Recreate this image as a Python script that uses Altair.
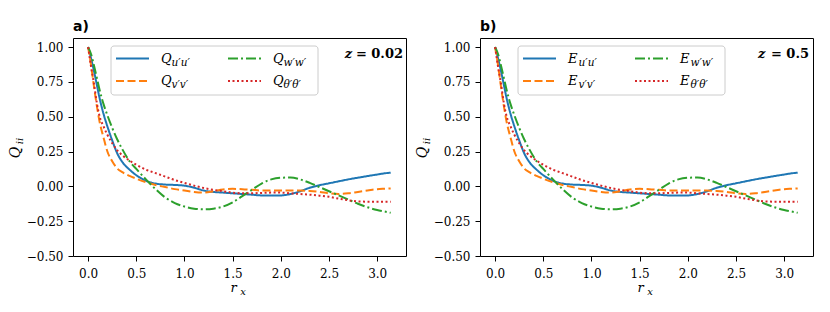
import altair as alt
import pandas as pd

# separation r_x (shared sampling grid)
rx = [0.0, 0.03, 0.06, 0.09, 0.12, 0.16, 0.2, 0.25, 0.3, 0.36, 0.43, 0.5, 0.6, 0.7,
      0.8, 0.9, 1.0, 1.1, 1.2, 1.3, 1.4, 1.5, 1.6, 1.7, 1.8, 1.9, 2.0, 2.1, 2.2, 2.3,
      2.4, 2.5, 2.6, 2.7, 2.8, 2.9, 3.0, 3.07, 3.14]

q_uu = [1.0, 0.92, 0.83, 0.73, 0.63, 0.52, 0.43, 0.33, 0.24, 0.17, 0.12, 0.08, 0.04, 0.02,
        0.013, 0.01, 0.005, -0.01, -0.03, -0.04, -0.045, -0.05, -0.055, -0.06, -0.065, -0.065,
        -0.065, -0.055, -0.035, -0.01, 0.008, 0.022, 0.036, 0.05, 0.062, 0.074, 0.085, 0.093, 0.098]

q_vv = [1.0, 0.87, 0.72, 0.58, 0.46, 0.35, 0.25, 0.18, 0.13, 0.1, 0.075, 0.055, 0.03, 0.01,
        -0.005, -0.02, -0.03, -0.04, -0.045, -0.035, -0.022, -0.018, -0.02, -0.025, -0.03, -0.03,
        -0.03, -0.03, -0.03, -0.033, -0.04, -0.05, -0.055, -0.05, -0.04, -0.03, -0.02, -0.017, -0.015]

q_ww = [1.0, 0.95, 0.87, 0.78, 0.69, 0.59, 0.51, 0.42, 0.34, 0.26, 0.18, 0.125, 0.05, -0.02,
        -0.08, -0.12, -0.145, -0.16, -0.165, -0.16, -0.145, -0.115, -0.07, -0.025, 0.02, 0.05,
        0.062, 0.063, 0.05, 0.025, -0.005, -0.035, -0.065, -0.095, -0.125, -0.15, -0.17, -0.18, -0.19]

q_tt = [1.0, 0.86, 0.74, 0.6, 0.5, 0.43, 0.37, 0.31, 0.26, 0.22, 0.185, 0.155, 0.12, 0.095,
        0.07, 0.045, 0.025, 0.005, -0.012, -0.025, -0.035, -0.045, -0.05, -0.05, -0.047, -0.045,
        -0.045, -0.05, -0.055, -0.06, -0.067, -0.075, -0.088, -0.1, -0.108, -0.11, -0.11, -0.11, -0.11]

series_keys = ["uu", "vv", "ww", "tt"]
series_subs = ["u′u′", "v′v′", "w′w′", "θ′θ′"]
colors = ["#1f77b4", "#ff7f0e", "#2ca02c", "#d62728"]
dashes = [[1, 0], [8, 3.5], [10, 3, 2, 3], [2, 2.5]]

x_ticks = [0.0, 0.5, 1.0, 1.5, 2.0, 2.5, 3.0]
y_ticks = [-0.5, -0.25, 0.0, 0.25, 0.5, 0.75, 1.0]

rows = []
for key, vals in zip(series_keys, [q_uu, q_vv, q_ww, q_tt]):
    for x, v in zip(rx, vals):
        rows.append({"rx": x, "Q": v, "s": key})
df = pd.DataFrame(rows)
one = pd.DataFrame({"k": [0]})

W, H = 333, 218
SERIF = "DejaVu Serif"


def txt(text, x, y, size, style="normal", weight="normal", align="center", angle=0, font=SERIF):
    return alt.Chart(one).mark_text(
        text=text, align=align, baseline="middle", font=font, fontStyle=style,
        fontWeight=weight, fontSize=size, color="black", angle=angle,
    ).encode(x=alt.value(x), y=alt.value(y))


def panel(letter, sym, zval, zx):
    lines = alt.Chart(df).mark_line(strokeWidth=2, interpolate="monotone", clip=True).encode(
        x=alt.X("rx:Q", scale=alt.Scale(domain=[-0.157, 3.299], nice=False, zero=False),
                axis=alt.Axis(values=x_ticks, format=".1f", title=None)),
        y=alt.Y("Q:Q", scale=alt.Scale(domain=[-0.5, 1.065], nice=False, zero=False),
                axis=alt.Axis(values=y_ticks, format=".2f", title=None)),
        color=alt.Color("s:N", scale=alt.Scale(domain=series_keys, range=colors), legend=None),
        strokeDash=alt.StrokeDash("s:N", scale=alt.Scale(domain=series_keys, range=dashes), legend=None),
    )
    layers = [lines]
    frame = alt.Chart(one).mark_rect(fill="white", fillOpacity=0.8, stroke="#cccccc",
                                     strokeWidth=1, cornerRadius=3).encode(
        x=alt.value(38), x2=alt.value(245), y=alt.value(8), y2=alt.value(57))
    layers.append(frame)
    for i, (key, sub, col, dash) in enumerate(zip(series_keys, series_subs, colors, dashes)):
        c, r = i // 2, i % 2
        ly = 20.5 + r * 22.5
        lx0 = 43 + c * 112
        tx = 88 + c * 112
        layers.append(alt.Chart(one).mark_rule(color=col, strokeDash=dash, strokeWidth=2).encode(
            x=alt.value(lx0), x2=alt.value(lx0 + 33), y=alt.value(ly)))
        layers.append(txt(sym, tx, ly, 13, style="italic", align="left"))
        layers.append(txt(sub, tx + 10.5, ly + 4, 10.5, style="italic", align="left"))
    # panel annotation z = ...
    layers.append(txt("= " + zval, zx, 16, 13, weight="bold", align="right"))
    layers.append(txt("z", zx - 7.3 * (len(zval) + 2) - 7, 16, 13, style="italic",
                      weight="bold", align="right"))
    # axis titles (with subscripts)
    layers.append(txt("r", 160.5, H + 32, 13, style="italic"))
    layers.append(txt("x", 170, H + 36, 10, style="italic"))
    layers.append(txt("Q", -57, 114.5, 14, style="italic", angle=270))
    layers.append(txt("ii", -53, 103, 10, style="italic", angle=270))
    return alt.layer(*layers).properties(
        width=W, height=H,
        title=alt.TitleParams(text=letter, anchor="start", frame="group", font="DejaVu Sans",
                              fontSize=14, fontWeight="bold", color="black", offset=4),
    )


chart = alt.hconcat(
    panel("a)", "Q", "0.02", 330),
    panel("b)", "E", "0.5", 329),
    spacing=74, bounds="flush",
).properties(
    padding={"left": 0, "top": 11, "right": 5, "bottom": 5}
).configure_view(
    stroke="black", strokeWidth=1
).configure_axis(
    domain=False, grid=False, ticks=True, tickColor="black", tickSize=5, tickWidth=1,
    labelFont=SERIF, labelFontSize=12, labelColor="black",
).configure_axisX(
    labelPadding=7
).configure_axisY(
    labelPadding=5
)

chart.save("out.html", embed_options={"renderer": "svg", "actions": False})
